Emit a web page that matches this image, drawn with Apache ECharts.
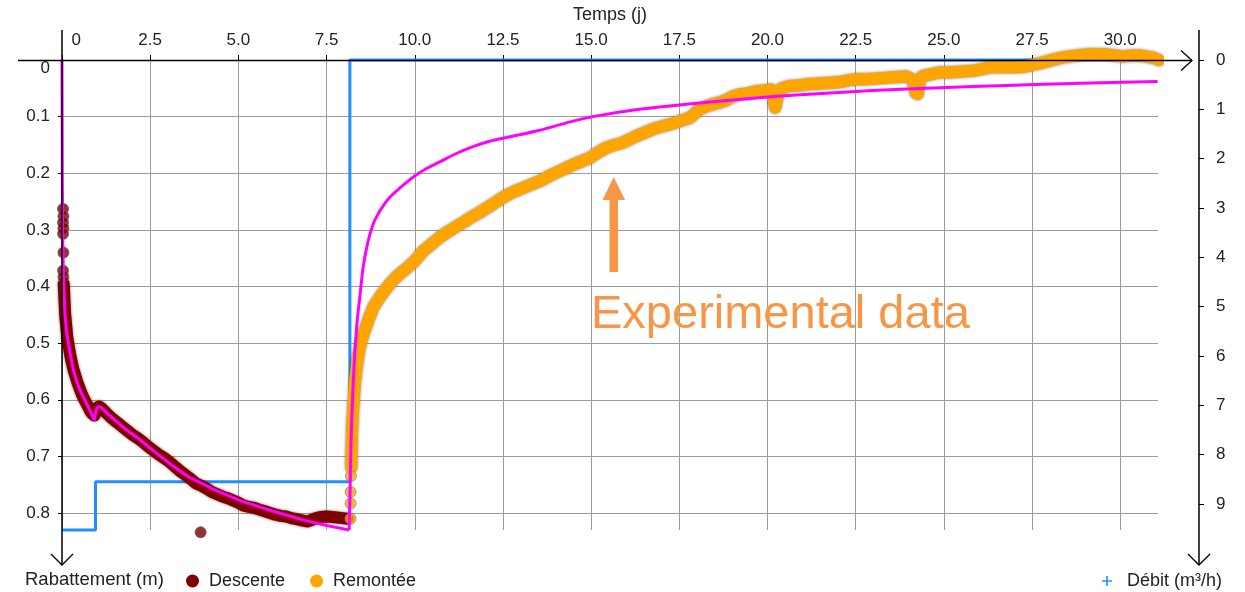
<!DOCTYPE html>
<html>
<head>
<meta charset="utf-8">
<title>Rabattement</title>
<script src="https://cdn.jsdelivr.net/npm/echarts@6.0.0/dist/echarts.min.js"></script>
<style>
  html, body { margin: 0; padding: 0; background: #fff; }
  #chart { width: 1245px; height: 592px; }
</style>
</head>
<body>
<div id="chart"></div>
<script>
// graduations
const tempsTicks = [0, 2.5, 5, 7.5, 10, 12.5, 15, 17.5, 20, 22.5, 25, 27.5, 30];
const rabTicks = [0, 0.1, 0.2, 0.3, 0.4, 0.5, 0.6, 0.7, 0.8];
const debitTicks = [0, 1, 2, 3, 4, 5, 6, 7, 8, 9];

// Descente : points isoles (debut + point aberrant)
const descentePoints = [
  [0.03, 0.263], [0.04, 0.276], [0.03, 0.287], [0.04, 0.297], [0.03, 0.307],
  [0.04, 0.34], [0.03, 0.372], [0.04, 0.383], [3.93, 0.834]
];
// Descente : bande continue
const descenteBande = [
  [0.05, 0.395], [0.06, 0.41], [0.075, 0.43], [0.09, 0.45], [0.12, 0.47], [0.15, 0.49],
  [0.19, 0.505], [0.23, 0.52], [0.28, 0.535], [0.33, 0.548], [0.38, 0.558], [0.44, 0.57],
  [0.5, 0.58], [0.56, 0.59], [0.62, 0.598], [0.68, 0.605], [0.74, 0.612], [0.8, 0.62],
  [0.86, 0.625], [0.92, 0.628], [0.98, 0.615], [1.05, 0.612], [1.12, 0.615], [1.2, 0.62],
  [1.3, 0.626], [1.4, 0.632], [1.5, 0.637], [1.6, 0.642], [1.7, 0.647], [1.8, 0.652],
  [1.9, 0.657], [2.0, 0.662], [2.15, 0.668], [2.3, 0.675], [2.45, 0.683], [2.6, 0.69],
  [2.75, 0.697], [2.9, 0.703], [3.05, 0.71], [3.2, 0.718], [3.35, 0.726], [3.5, 0.733],
  [3.65, 0.74], [3.8, 0.748], [3.95, 0.752], [4.1, 0.757], [4.25, 0.763], [4.4, 0.767],
  [4.55, 0.771], [4.7, 0.774], [4.85, 0.778], [5.0, 0.782], [5.15, 0.787], [5.3, 0.789],
  [5.45, 0.791], [5.6, 0.794], [5.75, 0.797], [5.9, 0.8], [6.05, 0.803], [6.2, 0.805],
  [6.35, 0.806], [6.5, 0.809], [6.65, 0.811], [6.8, 0.813], [6.95, 0.815], [7.05, 0.813],
  [7.2, 0.809], [7.35, 0.807], [7.5, 0.806], [7.65, 0.807], [7.8, 0.808], [7.95, 0.809],
  [8.1, 0.81]
];

// Remontee : premiers points isoles
const remonteePoints = [[8.18, 0.81], [8.18, 0.783], [8.18, 0.763], [8.19, 0.735]];
// Remontee : bande continue
const remonteeBande = [
  [8.2, 0.72], [8.21, 0.69], [8.22, 0.66], [8.24, 0.63], [8.27, 0.6], [8.3, 0.57],
  [8.35, 0.545], [8.4, 0.52], [8.47, 0.5], [8.55, 0.483], [8.68, 0.46], [8.83, 0.436],
  [9.05, 0.415], [9.3, 0.395], [9.53, 0.38], [9.77, 0.368], [10.0, 0.355], [10.24, 0.337],
  [10.48, 0.325], [10.71, 0.313], [10.95, 0.303], [11.18, 0.294], [11.42, 0.285], [11.65, 0.276],
  [11.9, 0.267], [12.13, 0.258], [12.37, 0.248], [12.6, 0.239], [12.83, 0.232], [13.07, 0.226],
  [13.3, 0.22], [13.54, 0.214], [13.78, 0.206], [14.01, 0.199], [14.25, 0.192], [14.49, 0.185],
  [14.72, 0.179], [14.96, 0.173], [15.2, 0.163], [15.43, 0.155], [15.66, 0.15], [15.9, 0.146],
  [16.13, 0.139], [16.37, 0.132], [16.6, 0.126], [16.85, 0.12], [17.08, 0.116], [17.32, 0.112],
  [17.56, 0.107], [17.8, 0.102], [17.95, 0.094], [18.07, 0.087], [18.25, 0.082], [18.45, 0.078],
  [18.64, 0.075], [18.83, 0.071], [19.0, 0.065], [19.2, 0.061], [19.45, 0.059], [19.69, 0.055],
  [19.92, 0.054], [20.1, 0.052], [20.17, 0.07], [20.22, 0.084], [20.3, 0.06], [20.4, 0.05],
  [20.63, 0.046], [20.87, 0.045], [21.11, 0.043], [21.35, 0.042], [21.58, 0.041], [21.82, 0.04],
  [22.05, 0.039], [22.28, 0.036], [22.52, 0.034], [22.76, 0.034], [23.0, 0.033], [23.23, 0.032],
  [23.47, 0.031], [23.7, 0.03], [23.94, 0.029], [24.12, 0.035], [24.2, 0.058], [24.26, 0.06],
  [24.32, 0.035], [24.41, 0.028], [24.65, 0.025], [24.89, 0.022], [25.12, 0.022], [25.36, 0.021],
  [25.6, 0.02], [25.83, 0.019], [26.07, 0.016], [26.3, 0.013], [26.54, 0.013], [26.78, 0.013],
  [27.0, 0.013], [27.25, 0.012], [27.48, 0.009], [27.72, 0.006], [27.95, 0.002], [28.19, -0.002],
  [28.42, -0.005], [28.66, -0.007], [28.9, -0.009], [29.14, -0.01], [29.37, -0.01], [29.61, -0.01],
  [29.85, -0.008], [30.08, -0.006], [30.32, -0.008], [30.56, -0.008], [30.75, -0.006], [30.93, -0.004],
  [31.1, 0.0]
];

// modele calcule (courbe magenta) : pompage puis remontee
const modeleDescente = [
  [0, 0], [0.005, 0.12], [0.01, 0.22], [0.02, 0.31], [0.035, 0.37], [0.05, 0.4], [0.085, 0.45],
  [0.13, 0.48], [0.18, 0.5], [0.25, 0.525], [0.32, 0.547], [0.41, 0.566], [0.51, 0.583],
  [0.6, 0.595], [0.7, 0.607], [0.8, 0.62], [0.92, 0.636], [0.96, 0.62], [1.0, 0.613],
  [1.1, 0.613], [1.3, 0.625], [1.5, 0.636], [1.8, 0.652], [2.16, 0.668], [2.63, 0.692],
  [3.1, 0.715], [3.58, 0.736], [4.33, 0.759], [5.09, 0.779], [5.94, 0.796], [6.88, 0.813],
  [7.5, 0.822], [8.14, 0.83]
];
const modeleRemontee = [
  [8.14, 0.83], [8.17, 0.75], [8.2, 0.66], [8.25, 0.58], [8.3, 0.52],
  [8.37, 0.46], [8.45, 0.415], [8.54, 0.365], [8.67, 0.322], [8.82, 0.29], [8.95, 0.273],
  [9.1, 0.258], [9.3, 0.242], [9.58, 0.226], [9.95, 0.207], [10.3, 0.193], [10.71, 0.18],
  [11.15, 0.166], [11.65, 0.153], [12.1, 0.144], [12.6, 0.137], [13.54, 0.124], [14.3, 0.111],
  [15.05, 0.1], [16.37, 0.087], [18.07, 0.076], [19.68, 0.067], [21.3, 0.06], [22.98, 0.054],
  [24.9, 0.049], [26.76, 0.045], [28.9, 0.041], [31.06, 0.038]
];

// debit de pompage (axe de droite)
const debit = [[0, 9.53], [0.95, 9.53], [0.95, 8.55], [8.16, 8.55], [8.16, 0], [31.07, 0]];

const font = 'Liberation Sans, Arial, sans-serif';
const txt = '#222';
const orangeNote = '#F79646';
const magenta = '#FF00FF';

const chart = echarts.init(document.getElementById('chart'));

const option = {
  animation: false,
  textStyle: { fontFamily: font },
  grid: { left: 62, right: 87, top: 60, bottom: 62 },
  title: {
    text: 'Rabattement (m)', left: 25, top: 570, padding: 0,
    textStyle: { fontSize: 18.5, fontWeight: 'normal', color: txt, fontFamily: font }
  },
  legend: [
    {
      left: 186, top: 572, padding: 0, itemWidth: 13, itemHeight: 13, itemGap: 25,
      textStyle: { fontSize: 18, color: txt, fontFamily: font },
      formatter: name => ' ' + name,
      data: [{ name: 'Descente', icon: 'circle' }, { name: 'Remontée', icon: 'circle' }]
    },
    {
      right: 23, top: 572, padding: 0, itemWidth: 10, itemHeight: 10,
      textStyle: { fontSize: 18, color: txt, fontFamily: font },
      formatter: name => '  ' + name,
      data: [{
        name: 'Débit (m³/h)',
        icon: 'path://M4.2,0 L5.8,0 L5.8,4.2 L10,4.2 L10,5.8 L5.8,5.8 L5.8,10 L4.2,10 L4.2,5.8 L0,5.8 L0,4.2 L4.2,4.2 Z'
      }]
    }
  ],
  xAxis: {
    type: 'value', position: 'top', min: 0, max: 31.07, interval: 2.5,
    name: 'Temps (j)', nameLocation: 'middle', nameGap: 36,
    nameTextStyle: { fontSize: 18, color: txt, fontFamily: font },
    axisLine: { show: false },
    axisTick: { show: true, length: 5, lineStyle: { color: '#000' } },
    axisLabel: {
      fontSize: 17, color: txt, margin: 11, showMaxLabel: false, alignMinLabel: 'left',
      formatter: v => (tempsTicks.indexOf(v) < 0 ? '' : (v === 0 ? '  0' : v.toFixed(1)))
    },
    splitLine: { show: true, showMaxLine: false, lineStyle: { color: '#9c9c9c', width: 1 } }
  },
  yAxis: [
    {
      type: 'value', inverse: true, min: 0, max: 0.83, interval: 0.1,
      axisLine: { show: false },
      axisTick: { show: true, length: 4, lineStyle: { color: '#000' } },
      axisLabel: {
        fontSize: 17, color: txt, margin: 12, showMaxLabel: false,
        verticalAlignMinLabel: 'top',
        formatter: v => {
          const k = rabTicks.findIndex(t => Math.abs(t - v) < 1e-6);
          return k < 0 ? '' : (k === 0 ? '0' : rabTicks[k].toFixed(1));
        }
      },
      splitLine: { show: true, showMaxLine: false, lineStyle: { color: '#9c9c9c', width: 1 } }
    },
    {
      type: 'value', position: 'right', offset: 41, inverse: true, min: 0, max: 9.53, interval: 1,
      axisLine: { show: false },
      axisTick: { show: true, length: 5, lineStyle: { color: '#000' } },
      axisLabel: {
        fontSize: 17, color: txt, margin: 17, showMaxLabel: false,
        formatter: v => (debitTicks.indexOf(v) < 0 ? '' : String(v))
      },
      splitLine: { show: false }
    }
  ],
  series: [
    {
      name: 'Débit (m³/h)', type: 'line', yAxisIndex: 1, data: debit, showSymbol: false, clip: false,
      itemStyle: { color: '#1E90FF' },
      lineStyle: { color: '#1E90FF', width: 3 }, z: 2
    },
    {
      name: 'Descente', type: 'line', data: descenteBande, showSymbol: false,
      itemStyle: { color: '#800000' },
      lineStyle: { color: '#800000', width: 12, cap: 'round', join: 'round',
        shadowColor: 'rgba(70,50,50,0.7)', shadowBlur: 3 }, z: 3
    },
    {
      name: 'Descente', type: 'scatter', data: descentePoints, symbolSize: 11, clip: false,
      itemStyle: { color: '#800000', borderColor: '#6a5050', borderWidth: 1 }, z: 3
    },
    {
      name: 'Remontée', type: 'line', data: remonteeBande, showSymbol: false, clip: false,
      itemStyle: { color: '#FFA500' },
      lineStyle: { color: '#FFA500', width: 12, cap: 'round', join: 'round',
        shadowColor: 'rgba(90,90,90,0.85)', shadowBlur: 3 }, z: 4
    },
    {
      name: 'Remontée', type: 'scatter', data: remonteePoints, symbolSize: 11, clip: false,
      itemStyle: { color: '#FFA500', borderColor: '#8a8a8a', borderWidth: 1 }, z: 4
    },
    {
      name: 'Modèle', type: 'line', data: modeleDescente, showSymbol: false, clip: false,
      lineStyle: { color: magenta, width: 3 }, z: 5
    },
    {
      name: 'Modèle', type: 'line', data: modeleRemontee, showSymbol: false, clip: false,
      smooth: 0.35, lineStyle: { color: magenta, width: 3 }, z: 5
    }
  ],
  graphic: [
    // axes fleches
    { type: 'line', shape: { x1: 18, y1: 60.5, x2: 1192, y2: 60.5 }, style: { stroke: '#000', lineWidth: 1.5 }, z: 10 },
    { type: 'polyline', shape: { points: [[1181, 50.5], [1192, 60.5], [1181, 70.5]] }, style: { stroke: '#000', lineWidth: 1.3, fill: null }, z: 10 },
    { type: 'line', shape: { x1: 62, y1: 30, x2: 62, y2: 565 }, style: { stroke: '#000', lineWidth: 1.5 }, z: 10 },
    { type: 'polyline', shape: { points: [[51, 554], [62, 565], [73, 554]] }, style: { stroke: '#000', lineWidth: 1.3, fill: null }, z: 10 },
    { type: 'line', shape: { x1: 1199, y1: 30, x2: 1199, y2: 565 }, style: { stroke: '#000', lineWidth: 1.5 }, z: 10 },
    { type: 'polyline', shape: { points: [[1188, 554], [1199, 565], [1210, 554]] }, style: { stroke: '#000', lineWidth: 1.3, fill: null }, z: 10 },
    // annotation
    {
      type: 'polygon', z: 20,
      shape: { points: [[609.5, 272], [618, 272], [618, 200], [625, 200], [613.7, 177], [602.5, 200], [609.5, 200]] },
      style: { fill: orangeNote }
    },
    {
      type: 'text', left: 591, top: 292, z: 20,
      style: { text: 'Experimental data', fontSize: 47, fontFamily: font, fill: orangeNote }
    }
  ]
};

chart.setOption(option);
</script>
</body>
</html>
